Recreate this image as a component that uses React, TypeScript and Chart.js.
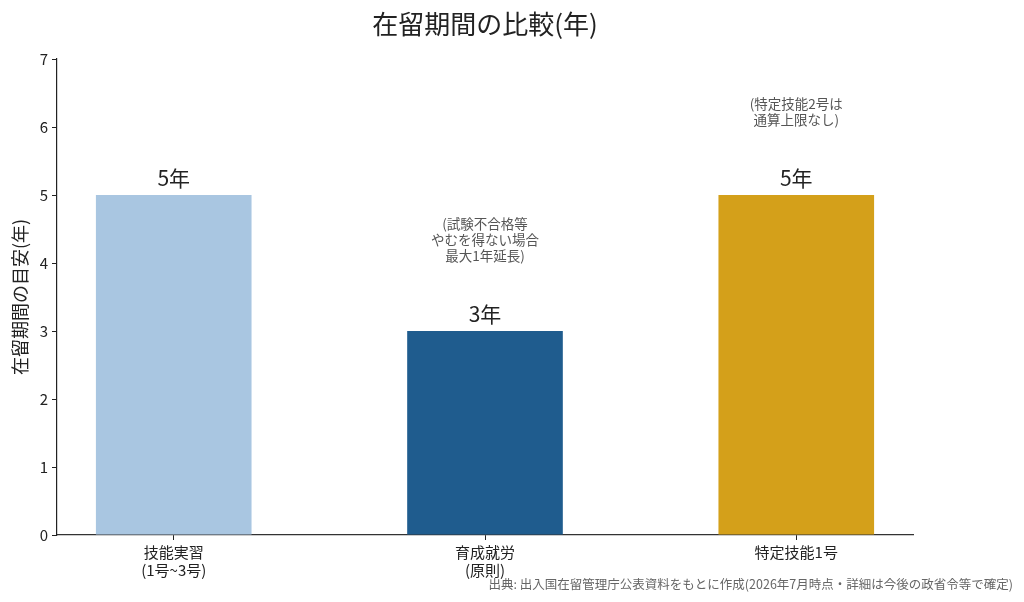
import React, { useEffect, useRef } from "react";
import { Chart, registerables } from "chart.js";

Chart.register(...registerables);

// Data
const categories: string[][] = [["技能実習", "(1号~3号)"], ["育成就労", "(原則)"], ["特定技能1号"]];
const values: number[] = [5, 3, 5];
const valueLabels: string[] = ["5年", "3年", "5年"];
const barColors: string[] = ["#a9c6e1", "#1f5c8e", "#d4a01a"];
const notes: (string[] | null)[] = [
  null,
  ["(試験不合格等", "やむを得ない場合", "最大1年延長)"],
  ["(特定技能2号は", "通算上限なし)"],
];
const yTicks: number[] = [0, 1, 2, 3, 4, 5, 6, 7];

const titleText = "在留期間の比較(年)";
const yTitleText = "在留期間の目安(年)";
const sourceText = "出典: 出入国在留管理庁公表資料をもとに作成(2026年7月時点・詳細は今後の政省令等で確定)";

const FONT = "'Noto Sans CJK JP', 'Noto Sans', sans-serif";

const textPlugin = {
  id: "textPlugin",
  afterDraw(chart: any) {
    const { ctx, chartArea, scales } = chart;
    const x = scales.x;
    const y = scales.y;
    ctx.save();

    // title
    ctx.fillStyle = "#222";
    ctx.font = `26px ${FONT}`;
    ctx.textAlign = "center";
    ctx.textBaseline = "middle";
    ctx.fillText(titleText, (chartArea.left + chartArea.right) / 2, 24);

    // y axis title
    ctx.save();
    ctx.translate(20, (chartArea.top + chartArea.bottom) / 2);
    ctx.rotate(-Math.PI / 2);
    ctx.font = `18px ${FONT}`;
    ctx.fillText(yTitleText, 0, 0);
    ctx.restore();

    // value labels
    ctx.font = `21px ${FONT}`;
    ctx.textBaseline = "alphabetic";
    values.forEach((v, i) => {
      ctx.fillText(valueLabels[i], x.getPixelForValue(i), y.getPixelForValue(v + 0.1) - 2);
    });

    // notes
    ctx.fillStyle = "#555";
    ctx.font = `13.5px ${FONT}`;
    notes.forEach((lines, i) => {
      if (!lines) return;
      const base = y.getPixelForValue(values[i] + 1) - 2;
      lines.forEach((line, k) => {
        ctx.fillText(line, x.getPixelForValue(i), base - (lines.length - 1 - k) * 16);
      });
    });

    // source
    ctx.fillStyle = "#666";
    ctx.font = `12.5px ${FONT}`;
    ctx.textAlign = "right";
    ctx.textBaseline = "middle";
    ctx.fillText(sourceText, 1013, 584);

    ctx.restore();
  },
};

const App: React.FC = () => {
  const chartRef = useRef<HTMLCanvasElement>(null);
  const chartInstance = useRef<Chart | null>(null);

  useEffect(() => {
    if (!chartRef.current) return;
    if (chartInstance.current) chartInstance.current.destroy();

    chartInstance.current = new Chart(chartRef.current, {
      type: "bar",
      data: {
        datasets: [
          {
            data: values.map((v, i) => ({ x: i, y: v })),
            backgroundColor: barColors,
            borderWidth: 0,
            barPercentage: 0.5,
            categoryPercentage: 1.0,
          },
        ],
      },
      options: {
        animation: false,
        responsive: false,
        maintainAspectRatio: false,
        layout: { padding: { top: 59, right: 111, left: 0, bottom: 0 } },
        plugins: {
          legend: { display: false },
          title: { display: false },
          tooltip: { enabled: false },
        },
        scales: {
          x: {
            type: "linear",
            offset: false,
            min: -0.375,
            max: 2.375,
            afterBuildTicks: (scale: any) => {
              scale.ticks = categories.map((_, i) => ({ value: i }));
            },
            afterFit: (scale: any) => {
              scale.height = 67;
            },
            grid: { drawOnChartArea: false, drawTicks: true, tickLength: 5, color: "#222", offset: false },
            border: { display: true, color: "#333", width: 1.2 },
            ticks: {
              color: "#222",
              font: { family: FONT, size: 15, lineHeight: 1.2 },
              padding: 3,
              maxRotation: 0,
              autoSkip: false,
              callback: (v: any) => categories[Number(v)] ?? "",
            },
          },
          y: {
            min: 0,
            max: 7,
            afterBuildTicks: (scale: any) => {
              scale.ticks = yTicks.map((v) => ({ value: v }));
            },
            afterFit: (scale: any) => {
              scale.width = 57;
            },
            grid: { drawOnChartArea: false, drawTicks: true, tickLength: 5, color: "#222" },
            border: { display: true, color: "#222", width: 1.2 },
            ticks: {
              color: "#222",
              font: { family: FONT, size: 15 },
              padding: 4,
            },
          },
        },
      },
      plugins: [textPlugin],
    } as any);

    return () => {
      if (chartInstance.current) {
        chartInstance.current.destroy();
        chartInstance.current = null;
      }
    };
  }, []);

  return (
    <div style={{ position: "absolute", left: 0, top: 0, width: 1024, height: 602, background: "#fff" }}>
      <canvas ref={chartRef} width={1024} height={602} />
    </div>
  );
};

export default App;
